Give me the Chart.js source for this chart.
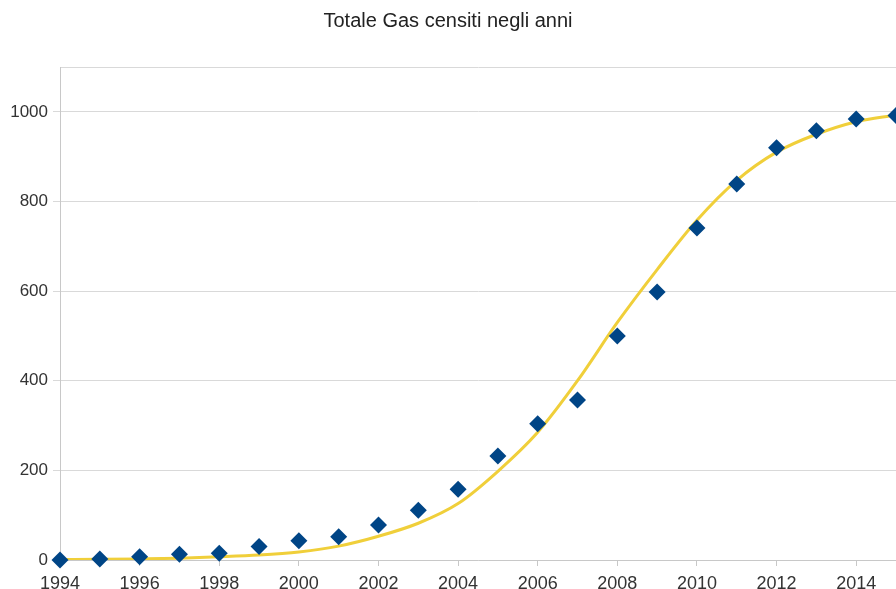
<!DOCTYPE html>
<html>
<head>
<meta charset="utf-8">
<script src="https://cdn.jsdelivr.net/npm/chart.js@4/dist/chart.umd.min.js"></script>
<style>
	html, body { margin: 0; padding: 0; background: #fff; overflow: hidden; }
	#wrap { width: 896px; height: 602px; }
</style>
</head>
<body>
<div id="wrap"><canvas id="chart"></canvas></div>
<script>
const title = 'Totale Gas censiti negli anni'

const years = [1994, 1995, 1996, 1997, 1998, 1999, 2000, 2001, 2002, 2003, 2004,
	2005, 2006, 2007, 2008, 2009, 2010, 2011, 2012, 2013, 2014, 2015]

// censused values (diamonds)
const totals = [0, 2, 7, 13, 15, 30, 43, 52, 78, 111, 158,
	232, 304, 357, 500, 598, 741, 839, 920, 958, 984, 992]

// fitted trend curve at each year
const trend = [1, 1.5, 2.5, 4, 7, 11, 18, 31, 53, 82, 126,
	198, 285, 400, 530, 648, 758, 847, 910, 950, 978, 993]

const xTicks = [1994, 1996, 1998, 2000, 2002, 2004, 2006, 2008, 2010, 2012, 2014]
const yTicks = [0, 200, 400, 600, 800, 1000, 1100]

const toPoints = vals => years.map((y, i) => ({ x: y, y: vals[i] }))

const ctx = document.getElementById('chart')

new Chart(ctx, {
	type: 'scatter',
	data: {
		datasets: [
			{
				label: 'Totale',
				data: toPoints(totals),
				pointStyle: 'rectRot',
				pointRadius: 8.5,
				pointBackgroundColor: '#004586',
				pointBorderColor: '#004586',
				pointBorderWidth: 0,
				clip: false,
				order: 0
			},
			{
				label: 'Tendenza',
				data: toPoints(trend),
				showLine: true,
				borderColor: '#f0cf3a',
				borderWidth: 3,
				pointRadius: 0,
				cubicInterpolationMode: 'monotone',
				order: 1
			}
		]
	},
	options: {
		responsive: true,
		maintainAspectRatio: false,
		animation: false,
		layout: { padding: 0, autoPadding: false },
		plugins: {
			legend: { display: false },
			tooltip: { enabled: false },
			title: {
				display: true,
				text: title,
				color: '#222',
				font: { family: 'Liberation Sans', size: 20, weight: 'normal' },
				padding: { top: 9, bottom: 34 }
			}
		},
		scales: {
			x: {
				type: 'linear',
				min: 1994,
				max: 2015,
				afterBuildTicks: axis => { axis.ticks = xTicks.map(v => ({ value: v })) },
				afterFit: axis => {
					axis.height = 42
					axis.paddingRight = 0
				},
				grid: {
					drawOnChartArea: false,
					drawTicks: true,
					tickLength: 6,
					color: '#c8c8c8'
				},
				border: { color: '#c8c8c8' },
				ticks: {
					padding: 7,
					color: '#333',
					maxRotation: 0,
					font: { family: 'Liberation Sans', size: 18 },
					callback: v => String(v)
				}
			},
			y: {
				min: 0,
				max: 1100,
				afterBuildTicks: axis => { axis.ticks = yTicks.map(v => ({ value: v })) },
				afterFit: axis => { axis.width = 60 },
				grid: {
					color: '#d9d9d9',
					tickColor: c => (c.tick && c.tick.value === 1100) ? 'rgba(0,0,0,0)' : '#d9d9d9',
					tickLength: 7
				},
				border: { color: '#c8c8c8' },
				ticks: {
					padding: 5,
					color: '#333',
					font: { family: 'Liberation Sans', size: 17 },
					callback: v => v === 1100 ? '' : String(v)
				}
			}
		}
	}
})
</script>
</body>
</html>
